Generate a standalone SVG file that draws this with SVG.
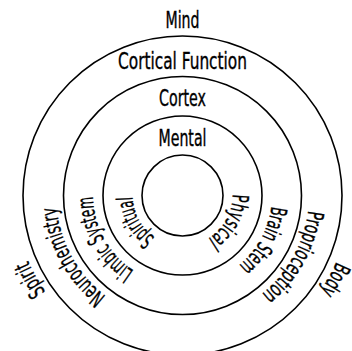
<svg xmlns="http://www.w3.org/2000/svg" xmlns:xlink="http://www.w3.org/1999/xlink" width="352" height="351" viewBox="0 0 352 351">
  <style>
    .ring { fill: none; stroke: #000; stroke-width: 1.6; }
    .lbl { font-family: "Liberation Sans Narrow", "DejaVu Sans Condensed", "Liberation Sans", sans-serif; font-size: 22.5px; fill: #000; stroke: #000; stroke-width: 0.35; }
    .h { text-anchor: middle; }
    .c { text-anchor: middle; }
  </style>
  <defs>
    <path id="p50" d="M 182.5,145.5 A 50 50 0 1 1 182.5,245.5 A 50 50 0 1 1 182.5,145.5"/>
    <path id="p89" d="M 182.5,106 A 89.5 89.5 0 1 1 182.5,285 A 89.5 89.5 0 1 1 182.5,106"/>
    <path id="p126" d="M 182.5,69 A 126.5 126.5 0 1 1 182.5,322 A 126.5 126.5 0 1 1 182.5,69"/>
    <path id="p167" d="M 182.5,28 A 167.5 167.5 0 1 1 182.5,363 A 167.5 167.5 0 1 1 182.5,28"/>
  </defs>
  <rect width="352" height="351" fill="#fff"/>

  <g id="outer-ring">
    <circle class="ring" cx="182.5" cy="195.5" r="159.5"/>
    <text class="lbl h" x="182.5" y="28" textLength="34" lengthAdjust="spacingAndGlyphs">Mind</text>
    <text class="lbl c"><textPath xlink:href="#p167" href="#p167" startOffset="33.06%" textLength="34" lengthAdjust="spacingAndGlyphs">Body</textPath></text>
    <text class="lbl c"><textPath xlink:href="#p167" href="#p167" startOffset="66.94%" textLength="36" lengthAdjust="spacingAndGlyphs">Spirit</textPath></text>
  </g>

  <g id="ring-2">
    <circle class="ring" cx="182.5" cy="195.5" r="119"/>
    <text class="lbl h" x="182.5" y="69" textLength="129" lengthAdjust="spacingAndGlyphs">Cortical Function</text>
    <text class="lbl c"><textPath xlink:href="#p126" href="#p126" startOffset="33.06%" textLength="98" lengthAdjust="spacingAndGlyphs">Proprioception</textPath></text>
    <text class="lbl c"><textPath xlink:href="#p126" href="#p126" startOffset="66.94%" textLength="105" lengthAdjust="spacingAndGlyphs">Neurochemistry</textPath></text>
  </g>

  <g id="ring-3">
    <circle class="ring" cx="182.5" cy="195.5" r="79.5"/>
    <text class="lbl h" x="182.5" y="106" textLength="47" lengthAdjust="spacingAndGlyphs">Cortex</text>
    <text class="lbl c"><textPath xlink:href="#p89" href="#p89" startOffset="33.06%" textLength="69" lengthAdjust="spacingAndGlyphs">Brain Stem</textPath></text>
    <text class="lbl c"><textPath xlink:href="#p89" href="#p89" startOffset="66.94%" textLength="88" lengthAdjust="spacingAndGlyphs">Limbic System</textPath></text>
  </g>

  <g id="inner-ring">
    <circle class="ring" cx="182.5" cy="195.5" r="40.5"/>
    <text class="lbl h" x="182.5" y="145.5" textLength="48" lengthAdjust="spacingAndGlyphs">Mental</text>
    <text class="lbl c"><textPath xlink:href="#p50" href="#p50" startOffset="33.06%" textLength="53" lengthAdjust="spacingAndGlyphs">Physical</textPath></text>
    <text class="lbl c"><textPath xlink:href="#p50" href="#p50" startOffset="66.94%" textLength="48" lengthAdjust="spacingAndGlyphs">Spiritual</textPath></text>
  </g>
</svg>
